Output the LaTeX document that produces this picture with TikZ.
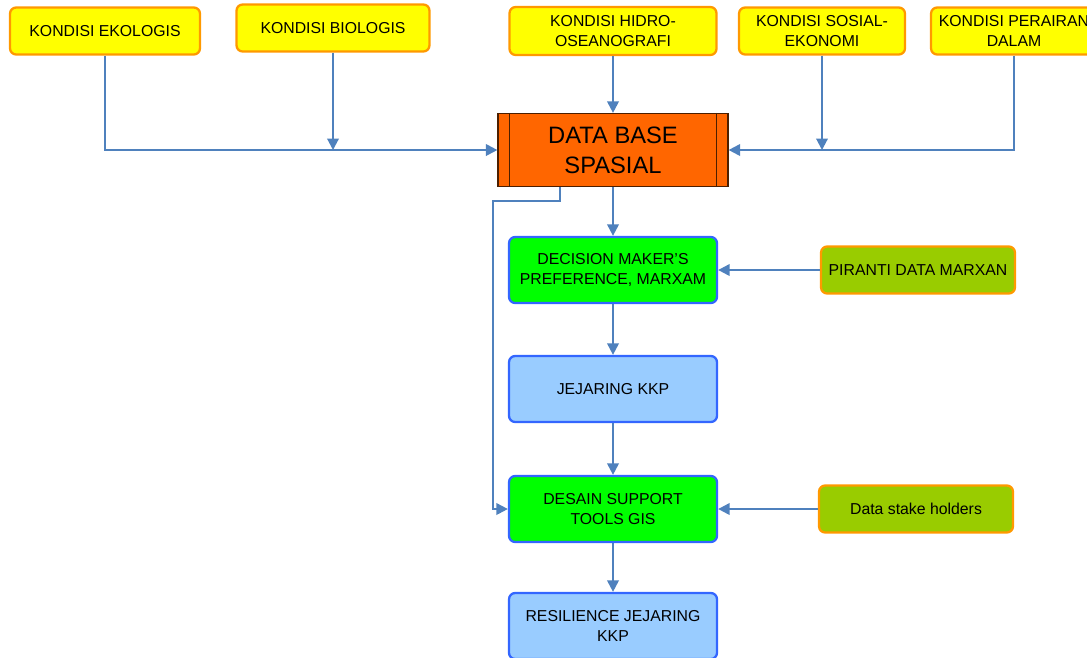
\documentclass[tikz,border=0pt]{standalone}
\usepackage{fontspec}
\setmainfont{Liberation Sans}
\usetikzlibrary{arrows.meta,positioning}

\definecolor{linkblue}{HTML}{4F81BD}
\definecolor{boxyellow}{HTML}{FFFF00}
\definecolor{boxorange}{HTML}{FF9900}
\definecolor{dborange}{HTML}{FF6600}
\definecolor{boxgreen}{HTML}{00FF00}
\definecolor{boxblue}{HTML}{99CCFF}
\definecolor{edgeblue}{HTML}{3366FF}
\definecolor{boxolive}{HTML}{99CC00}

\tikzset{
    kondisi/.style={draw=boxorange, fill=boxyellow, line width=1.3pt, rounded corners=3.5pt,
        align=center, inner sep=0pt, font=\fontsize{9}{11}\selectfont},
    database/.style={draw=black!70!dborange, fill=dborange, line width=0.7pt,
        minimum width=4.6cm, minimum height=1.46cm, align=center, inner sep=0pt,
        font=\fontsize{13.5}{17}\selectfont},
    proses/.style={draw=edgeblue, fill=boxgreen, line width=1.3pt, rounded corners=3.5pt,
        minimum width=4.16cm, minimum height=1.32cm, align=center, inner sep=0pt,
        font=\fontsize{9}{11}\selectfont},
    hasil/.style={proses, fill=boxblue},
    piranti/.style={draw=boxorange, fill=boxolive, line width=1.3pt, rounded corners=3.5pt,
        minimum width=3.88cm, minimum height=0.94cm, align=center, inner sep=0pt,
        font=\fontsize{9}{11}\selectfont},
    link/.style={draw=linkblue, line width=1.2pt, ->}
}

\begin{document}
\begin{tikzpicture}[x=0.02cm, y=-0.02cm, >={Triangle[length=0.23cm,width=0.23cm]}]
    \useasboundingbox (0,0) rectangle (1087,657);

    % input conditions along the top
    \node[kondisi, minimum width=3.8cm, minimum height=0.94cm] (ekologis) at (105,31) {KONDISI EKOLOGIS};
    \node[kondisi, minimum width=3.86cm, minimum height=0.94cm] (biologis) at (333,28) {KONDISI BIOLOGIS};
    \node[kondisi, minimum width=4.14cm, minimum height=0.96cm] (hidro) at (613,31) {KONDISI HIDRO-\\OSEANOGRAFI};
    \node[kondisi, minimum width=3.32cm, minimum height=0.94cm] (sosial) at (822,31) {KONDISI SOSIAL-\\EKONOMI};
    \node[kondisi, minimum width=3.32cm, minimum height=0.94cm] (perairan) at (1014,31) {KONDISI PERAIRAN\\DALAM};

    % spatial data base, with its two side bars
    \node[database] (db) at (613,150) {DATA BASE\\SPASIAL};
    \draw[black!70!dborange, line width=0.7pt] ([xshift=0.24cm]db.north west) -- ([xshift=0.24cm]db.south west);
    \draw[black!70!dborange, line width=0.7pt] ([xshift=-0.24cm]db.north east) -- ([xshift=-0.24cm]db.south east);

    % main column
    \node[proses] (decision) at (613,270) {DECISION MAKER'S\\PREFERENCE, MARXAM};
    \node[hasil] (jejaring) at (613,389) {JEJARING KKP};
    \node[proses] (desain) at (613,509) {DESAIN SUPPORT\\TOOLS GIS};
    \node[hasil] (resilience) at (613,626) {RESILIENCE JEJARING\\KKP};

    % side inputs
    \node[piranti] (marxan) at (918,270) {PIRANTI DATA MARXAN};
    \node[piranti] (stake) at (916,509) {Data stake holders};

    % conditions into the data base
    \draw[link] (ekologis.south) |- (db.west);
    \draw[link] (biologis.south) -- (biologis.south |- db.west);
    \draw[link] (hidro.south) -- (db.north);
    \draw[link] (sosial.south) -- (sosial.south |- db.east);
    \draw[link] (perairan.south) |- (db.east);

    % down the column
    \draw[link] (db.south) -- (decision.north);
    \draw[link] (decision.south) -- (jejaring.north);
    \draw[link] (jejaring.south) -- (desain.north);
    \draw[link] (desain.south) -- (resilience.north);

    % side inputs into the column
    \draw[link] (marxan.west) -- (decision.east);
    \draw[link] (stake.west) -- (desain.east);

    % data base straight to the GIS tools
    \coordinate (belok) at (493,201);
    \draw[link] ([xshift=-1.06cm]db.south) |- (belok) |- (desain.west);
\end{tikzpicture}
\end{document}
